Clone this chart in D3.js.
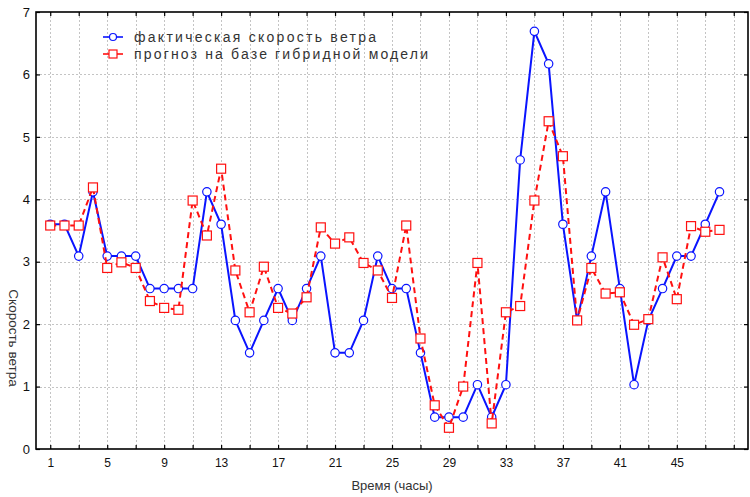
<!DOCTYPE html>
<html><head><meta charset="utf-8">
<script src="https://cdn.jsdelivr.net/npm/d3@7"></script>
<style>
html,body{margin:0;padding:0;background:#fff;}
svg{display:block;font-family:"Liberation Sans",Arial,sans-serif;}
</style></head>
<body>
<svg id="chart" width="750" height="497"></svg>
<script>
const hours = [1,2,3,4,5,6,7,8,9,10,11,12,13,14,15,16,17,18,19,20,21,22,23,24,25,26,27,28,29,30,31,32,33,34,35,36,37,38,39,40,41,42,43,44,45,46,47,48];
const actual = [3.6,3.6,3.09,4.12,3.09,3.09,3.09,2.57,2.57,2.57,2.57,4.12,3.6,2.06,1.54,2.06,2.57,2.06,2.57,3.09,1.54,1.54,2.06,3.09,2.57,2.57,1.54,0.51,0.51,0.51,1.03,0.51,1.03,4.63,6.69,6.17,3.6,2.06,3.09,4.12,2.57,1.03,2.06,2.57,3.09,3.09,3.6,4.12];
const forecast = [3.58,3.58,3.58,4.19,2.9,2.99,2.9,2.37,2.26,2.23,3.98,3.42,4.49,2.86,2.19,2.92,2.26,2.17,2.43,3.55,3.29,3.39,2.98,2.86,2.42,3.58,1.77,0.70,0.34,1.0,2.98,0.41,2.19,2.29,3.98,5.25,4.69,2.06,2.9,2.49,2.51,1.99,2.08,3.07,2.4,3.57,3.48,3.51];
const xTicks = [1,3,5,7,9,11,13,15,17,19,21,23,25,27,29,31,33,35,37,39,41,43,45,47,49];
const xTickLabels = [1,5,9,13,17,21,25,29,33,37,41,45];
const yTicks = [0,1,2,3,4,5,6,7];
const seriesNames = ["фактическая скорость ветра","прогноз на базе гибридной модели"];
const xTitle = "Время (часы)";
const yTitle = "Скорость ветра";

const svg = d3.select("#chart");
const x = d3.scaleLinear().domain([0,50]).range([36,748]);
const y = d3.scaleLinear().domain([0,7]).range([449,12]);
const L = x.range()[0], R = x.range()[1], T = y.range()[1], B = y.range()[0];

// grid
const grid = svg.append("g").attr("stroke","#c4c4c4").attr("stroke-width",1).attr("stroke-dasharray","2,2");
grid.selectAll("line.v").data(xTicks).join("line").attr("class","v")
  .attr("x1",d=>Math.round(x(d))+0.5).attr("x2",d=>Math.round(x(d))+0.5).attr("y1",T).attr("y2",B);
grid.selectAll("line.h").data(yTicks.filter(d=>d>0&&d<7)).join("line").attr("class","h")
  .attr("y1",d=>Math.round(y(d))+0.5).attr("y2",d=>Math.round(y(d))+0.5).attr("x1",L).attr("x2",R);

// axes with inward ticks
const axB = d3.axisBottom(x).tickValues(xTicks).tickSizeInner(-4).tickSizeOuter(0).tickFormat(d=>xTickLabels.includes(d)?d:"");
const gB = svg.append("g").attr("transform",`translate(0,${B})`).call(axB);
gB.select(".domain").remove();
gB.selectAll(".tick line").attr("stroke","#000").attr("stroke-width",1.2);
gB.selectAll(".tick text").attr("y",9).attr("font-size",12).attr("fill","#111").attr("font-family","Liberation Sans, Arial, sans-serif");

const axT = d3.axisTop(x).tickValues(xTicks).tickSizeInner(-4).tickSizeOuter(0).tickFormat("");
const gT = svg.append("g").attr("transform",`translate(0,${T})`).call(axT);
gT.select(".domain").remove();
gT.selectAll(".tick line").attr("stroke","#000").attr("stroke-width",1.2);

const axLft = d3.axisLeft(y).tickValues(yTicks).tickSizeInner(-4).tickSizeOuter(0).tickFormat(d3.format("d"));
const gL = svg.append("g").attr("transform",`translate(${L},0)`).call(axLft);
gL.select(".domain").remove();
gL.selectAll(".tick line").attr("stroke","#000").attr("stroke-width",1.2);
gL.selectAll(".tick text").attr("x",-6).attr("font-size",13).attr("fill","#111").attr("font-family","Liberation Sans, Arial, sans-serif");

const axR = d3.axisRight(y).tickValues(yTicks).tickSizeInner(-4).tickSizeOuter(0).tickFormat("");
const gR = svg.append("g").attr("transform",`translate(${R},0)`).call(axR);
gR.select(".domain").remove();
gR.selectAll(".tick line").attr("stroke","#000").attr("stroke-width",1.2);

// frame
svg.append("rect").attr("x",L).attr("y",T).attr("width",R-L).attr("height",B-T)
  .attr("fill","none").attr("stroke","#000").attr("stroke-width",1.6);

// titles
svg.append("text").attr("x",(L+R)/2).attr("y",490).attr("text-anchor","middle")
  .attr("font-size",13).attr("fill","#333").text(xTitle);
svg.append("text").attr("transform","translate(13,338) rotate(90)").attr("text-anchor","middle")
  .attr("dominant-baseline","middle").attr("font-size",13.5).attr("fill","#333").text(yTitle);

const line = d3.line().x((d,i)=>x(hours[i])).y(d=>y(d));

// actual (blue)
svg.append("path").datum(actual).attr("d",line).attr("fill","none").attr("stroke","#0a14ff").attr("stroke-width",2);
svg.append("g").selectAll("circle").data(actual).join("circle")
  .attr("cx",(d,i)=>x(hours[i])).attr("cy",d=>y(d)).attr("r",4.2)
  .attr("fill","#fff").attr("stroke","#0a14ff").attr("stroke-width",1.2);

// forecast (red)
svg.append("path").datum(forecast).attr("d",line).attr("fill","none").attr("stroke","#ff1010")
  .attr("stroke-width",2).attr("stroke-dasharray","6,4");
svg.append("g").selectAll("rect").data(forecast).join("rect")
  .attr("x",(d,i)=>x(hours[i])-4.5).attr("y",d=>y(d)-4.5).attr("width",9).attr("height",9)
  .attr("fill","#fff").attr("stroke","#ff1010").attr("stroke-width",1.2);

// legend
const leg = [{name:seriesNames[0],color:"#0a14ff",shape:"circle",y:37,len:242},
             {name:seriesNames[1],color:"#ff1010",shape:"rect",y:54,len:294}];
const lg = svg.append("g");
leg.forEach(s=>{
  lg.append("line").attr("x1",103).attr("x2",123).attr("y1",s.y).attr("y2",s.y).attr("stroke",s.color).attr("stroke-width",1.6);
  if(s.shape==="circle"){
    lg.append("circle").attr("cx",113).attr("cy",s.y).attr("r",3.5).attr("fill","#fff").attr("stroke",s.color).attr("stroke-width",1.2);
  } else {
    lg.append("rect").attr("x",109).attr("y",s.y-4).attr("width",8).attr("height",8).attr("fill","#fff").attr("stroke",s.color).attr("stroke-width",1.2);
  }
  lg.append("text").attr("x",134).attr("y",s.y+5).attr("font-size",14).attr("fill","#333")
    .attr("textLength",s.len).attr("lengthAdjust","spacing").text(s.name);
});
</script>
</body></html>
